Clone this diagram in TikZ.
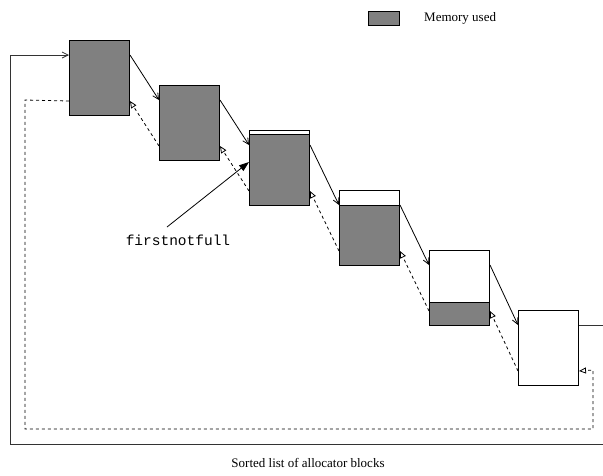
\documentclass[tikz,border=0pt]{standalone}
\usepackage{fontspec}
\setmainfont{Liberation Serif}
\setmonofont{Liberation Mono}
\usetikzlibrary{arrows.meta,calc}
\begin{document}
\begin{tikzpicture}[x=1pt,y=-1pt,
  blk/.style={draw=black,line width=1pt,minimum width=60pt,minimum height=75pt,inner sep=0pt,anchor=north west},
  used/.style={fill=gray,draw=black,line width=1pt},
  fwd/.style={draw=black,line width=0.8pt,-{Straight Barb[length=6pt,width=6pt]}},
  bwd/.style={draw=black,line width=0.8pt,dash pattern=on 3pt off 3pt,-{Triangle[open,length=7pt,width=6pt]}},
  loopsolid/.style={draw=black!80,line width=0.8pt},
  txt/.style={font=\fontsize{13}{15}\selectfont,inner sep=0pt}]
\useasboundingbox (0,0) rectangle (603,475);
% used memory fills
\fill[gray] (69,40) rectangle (129,115);
\fill[gray] (159,85) rectangle (219,160);
\path[used] (249,134) rectangle (309,205);
\path[used] (339,205) rectangle (399,265);
\path[used] (429,302) rectangle (489,325);
% blocks
\node[blk] (b1) at (69,40) {};
\node[blk] (b2) at (159,85) {};
\node[blk] (b3) at (249,130) {};
\node[blk] (b4) at (339,190) {};
\node[blk] (b5) at (429,250) {};
\node[blk] (b6) at (518,310) {};
% forward links
\draw[fwd] ($(b1.north east)+(0,15)$) -- ($(b2.north west)+(0,15)$);
\draw[fwd] ($(b2.north east)+(0,15)$) -- ($(b3.north west)+(0,15)$);
\draw[fwd] ($(b3.north east)+(0,15)$) -- ($(b4.north west)+(0,15)$);
\draw[fwd] ($(b4.north east)+(0,15)$) -- ($(b5.north west)+(0,15)$);
\draw[fwd] ($(b5.north east)+(0,15)$) -- ($(b6.north west)+(0,15)$);
\coordinate (rexit) at (603,325);
\draw[loopsolid] ($(b6.north east)+(0,15)$) -- (rexit);
% backward links
\draw[bwd] ($(b2.south west)+(0,-15)$) -- ($(b1.south east)+(0,-15)$);
\draw[bwd] ($(b3.south west)+(0,-15)$) -- ($(b2.south east)+(0,-15)$);
\draw[bwd] ($(b4.south west)+(0,-15)$) -- ($(b3.south east)+(0,-15)$);
\draw[bwd] ($(b5.south west)+(0,-15)$) -- ($(b4.south east)+(0,-15)$);
\draw[bwd] ($(b6.south west)+(0,-15)$) -- ($(b5.south east)+(0,-15)$);
% wrap-around solid
\coordinate (sbr) at (603,444);
\draw[loopsolid,-{Straight Barb[length=6pt,width=6pt]}] (sbr) -- (10,444) -- (10,55) -- ($(b1.north west)+(0,15)$);
% wrap-around dashed
\draw[bwd] ($(b1.south west)+(0,-15)$) -- (25,100) -- (25,429) -- (593,429) -- (593,370) -- ($(b6.south east)+(0,-15)$);
% firstnotfull
\node[txt,font=\ttfamily\fontsize{14.5}{16}\selectfont] (fnf) at (178,240) {firstnotfull};
\coordinate (fnfa) at (167,227);
\draw[line width=0.8pt,-{Triangle[length=10pt,width=7pt]}] (fnfa) -- ($(b3.north west)+(0,32)$);
% legend
\node[used,minimum width=31pt,minimum height=14pt,inner sep=0pt,line width=0.8pt] (leg) at (383.5,18) {};
\node[txt,anchor=west] (legt) at (424,18) {Memory used};
% caption
\node[txt] (cap) at (308,463) {Sorted list of allocator blocks};
\end{tikzpicture}
\end{document}
